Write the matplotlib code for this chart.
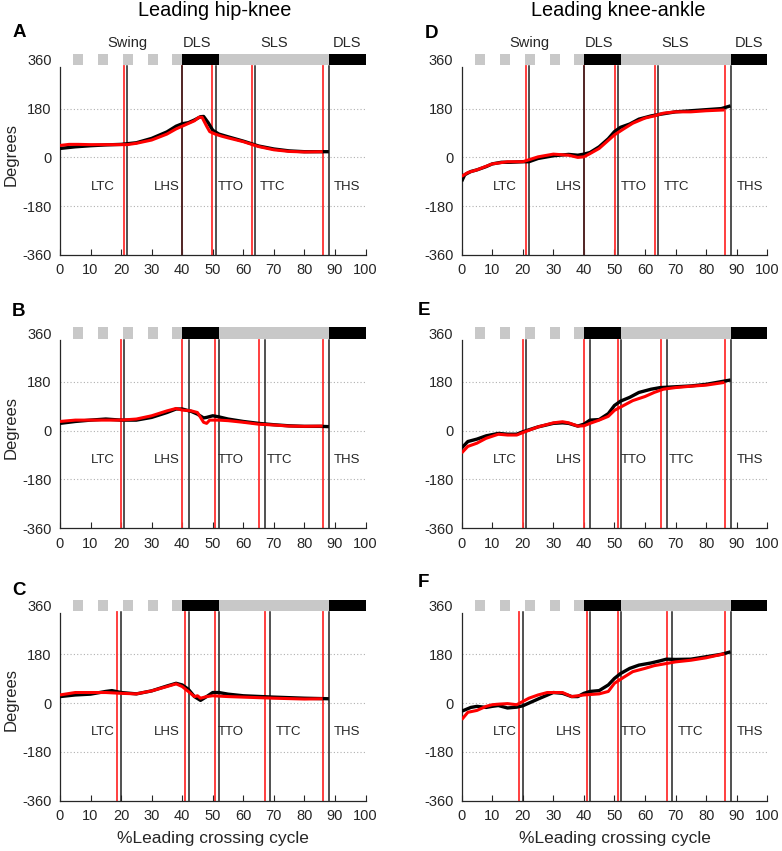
import matplotlib
matplotlib.use("Agg")
import matplotlib.pyplot as plt
import numpy as np

plt.rcParams['font.family'] = ['Liberation Sans', 'DejaVu Sans']
plt.rcParams['axes.unicode_minus'] = False

# ---------------- data ----------------
titles = ["Leading hip-knee", "Leading knee-ankle"]
panel_letters = ["A", "B", "C", "D", "E", "F"]
yticks = [-360, -180, 0, 180, 360]
xticks = [0, 10, 20, 30, 40, 50, 60, 70, 80, 90, 100]
phase_names = ["LTC", "LHS", "TTO", "TTC", "THS"]
phase_label_x = {
    "A": [14, 35, 56, 69.7, 94],
    "B": [14, 35, 56, 72, 94],
    "C": [14, 35, 56, 74.9, 94],
    "D": [14, 35.2, 56.2, 70.2, 94.5],
    "E": [14, 35.2, 56.2, 72, 94.5],
    "F": [14, 35.2, 56.2, 74.8, 94.5],
}
header_names = ["Swing", "DLS", "SLS", "DLS"]
header_x = [22, 45, 70, 94]
swing_dash_starts = [4.3, 12.5, 20.7, 28.8, 36.7]
swing_dash_width = 3.3
dls1 = (40, 52)
sls = (52, 88)
dls2 = (88, 100)

# event lines (black = one group, red = other)
black_events = {
    "A": [21.9, 39.9, 51.0, 63.8, 88.2],
    "B": [21.0, 42.1, 52.1, 67.0, 88.2],
    "C": [20.0, 42.1, 52.1, 68.9, 88.2],
    "D": [22.0, 40.1, 51.3, 64.1, 88.1],
    "E": [21.0, 42.0, 52.0, 67.1, 88.1],
    "F": [20.0, 42.0, 52.0, 69.0, 88.1],
}
red_events = {
    "A": [20.8, 39.9, 49.8, 62.8, 86.0],
    "B": [19.9, 39.9, 50.8, 65.0, 86.0],
    "C": [18.8, 41.0, 50.8, 67.0, 86.0],
    "D": [21.0, 40.1, 50.2, 63.2, 86.1],
    "E": [20.0, 40.0, 51.0, 65.1, 86.1],
    "F": [18.9, 40.9, 51.0, 67.1, 86.1],
}

# curves
A_black_x = [0, 5, 10, 15, 20, 25, 30, 35, 38, 40, 42, 44, 46, 47, 48.5, 50, 52, 55, 60, 65, 70, 75, 80, 85, 88]
A_black_y = [33, 39, 43, 46, 48, 54, 70, 94, 115, 124, 128, 138, 150, 151, 128, 100, 86, 76, 60, 42, 31, 24, 21, 21, 21]
A_red_x = [0, 3, 6, 10, 15, 20, 22, 25, 30, 35, 38, 40, 42, 44, 45.5, 46.5, 48, 49, 51, 53, 55, 60, 65, 70, 75, 80, 86]
A_red_y = [44, 48, 48, 47, 47, 47, 47, 52, 64, 86, 105, 115, 125, 135, 148, 148, 115, 95, 85, 78, 72, 58, 40, 28, 22, 20, 21]

B_black_x = [0, 5, 10, 15, 20, 25, 30, 35, 38, 40, 43, 45, 47, 48, 50, 52, 55, 60, 65, 70, 75, 80, 85, 88]
B_black_y = [27, 34, 39, 43, 39, 39, 49, 67, 80, 80, 71, 61, 47, 49, 55, 51, 43, 34, 27, 22, 18, 16, 16, 15]
B_red_x = [0, 5, 10, 20, 25, 30, 35, 38, 40, 43, 45, 47, 48, 49, 52, 55, 60, 65, 70, 75, 80, 86]
B_red_y = [34, 39, 39, 39, 43, 55, 73, 82, 76, 73, 67, 31, 27, 39, 39, 37, 31, 24, 21, 17, 16, 17]

C_black_x = [0, 5, 10, 15, 17, 20, 25, 30, 35, 38, 40, 42, 44, 46, 48, 50, 52, 55, 60, 70, 80, 88]
C_black_y = [24, 30, 33, 43, 46, 39, 34, 45, 63, 73, 67, 51, 24, 10, 24, 39, 39, 33, 27, 22, 18, 16]
C_red_x = [0, 5, 10, 15, 20, 25, 30, 35, 38, 40, 42, 44, 45, 46, 48, 50, 55, 60, 70, 80, 86]
C_red_y = [30, 39, 39, 39, 36, 34, 45, 61, 71, 61, 43, 24, 27, 18, 24, 27, 24, 22, 18, 15, 16]

D_black_x = [0, 1, 3, 5, 8, 10, 13, 16, 20, 22, 25, 30, 35, 38, 40, 42, 45, 48, 50, 52, 55, 58, 62, 65, 70, 75, 80, 85, 88]
D_black_y = [-88, -64, -52, -46, -34, -24, -18, -18, -16, -16, -4, 6, 11, 8, 12, 18, 39, 69, 95, 111, 123, 141, 153, 159, 168, 172, 176, 180, 190]
D_red_x = [0, 2, 5, 10, 15, 20, 25, 30, 35, 38, 40, 42, 45, 48, 50, 53, 56, 60, 63, 66, 70, 75, 80, 86]
D_red_y = [-70, -56, -46, -24, -16, -16, 2, 12, 8, 0, 2, 14, 33, 63, 83, 105, 126, 145, 153, 163, 168, 168, 172, 175]

E_black_x = [0, 2, 5, 8, 12, 15, 18, 20, 25, 30, 33, 35, 38, 40, 42, 45, 48, 50, 52, 55, 58, 62, 65, 70, 75, 80, 85, 88]
E_black_y = [-64, -40, -31, -19, -10, -13, -13, -4, 14, 27, 29, 27, 17, 24, 39, 41, 63, 93, 109, 123, 141, 153, 159, 162, 165, 171, 181, 187]
E_red_x = [0, 2, 5, 8, 12, 15, 18, 20, 25, 30, 33, 35, 38, 40, 42, 45, 48, 50, 53, 56, 60, 63, 66, 70, 75, 80, 86]
E_red_y = [-82, -58, -46, -28, -13, -16, -16, -7, 14, 29, 33, 29, 17, 18, 27, 39, 53, 75, 93, 111, 126, 141, 153, 159, 164, 168, 178]

F_black_x = [0, 3, 5, 8, 10, 12, 15, 18, 20, 22, 25, 30, 33, 36, 38, 40, 42, 45, 48, 50, 52, 55, 58, 62, 65, 67, 70, 75, 80, 85, 88]
F_black_y = [-30, -16, -12, -16, -12, -9, -18, -15, -10, 0, 15, 39, 36, 24, 24, 36, 43, 46, 67, 91, 109, 128, 140, 148, 156, 162, 161, 162, 171, 180, 189]
F_red_x = [0, 2, 5, 8, 10, 12, 15, 18, 20, 22, 25, 28, 30, 33, 36, 38, 40, 45, 48, 50, 53, 56, 60, 63, 67, 70, 75, 80, 86]
F_red_y = [-61, -34, -27, -12, -6, -4, -2, -6, 6, 18, 30, 39, 39, 39, 24, 27, 30, 34, 43, 73, 95, 116, 128, 138, 146, 152, 158, 167, 182]

curves = {
    "A": (A_black_x, A_black_y, A_red_x, A_red_y),
    "B": (B_black_x, B_black_y, B_red_x, B_red_y),
    "C": (C_black_x, C_black_y, C_red_x, C_red_y),
    "D": (D_black_x, D_black_y, D_red_x, D_red_y),
    "E": (E_black_x, E_black_y, E_red_x, E_red_y),
    "F": (F_black_x, F_black_y, F_red_x, F_red_y),
}

letter_pos = {
    "A": (-15.7, 460), "B": (-15.7, 441), "C": (-15.7, 415),
    "D": (-12.0, 456), "E": (-14.3, 445), "F": (-14.3, 445),
}

# ---------------- figure ----------------
W, H = 782, 851
fig = plt.figure(figsize=(W / 100, H / 100), dpi=100)

col_left = [60 / W, 461.7 / W]
col_w = 305.5 / W
row_bottom_px = [255, 528.3, 800.7]
ax_h = 202 / H

TXT = '#262626'
GREY_BAR = '#c8c8c8'

for ci in range(2):
    for ri in range(3):
        key = panel_letters[ci * 3 + ri]
        ax = fig.add_axes([col_left[ci], 1 - row_bottom_px[ri] / H, col_w, ax_h])
        ax.set_xlim(0, 100)
        ax.set_ylim(-360, 385)
        for s in ['top', 'right']:
            ax.spines[s].set_visible(False)
        for s in ['left', 'bottom']:
            ax.spines[s].set_color(TXT)
            ax.spines[s].set_linewidth(0.9)
        ax.spines['left'].set_bounds(-360, 334)
        ax.set_xticks(xticks)
        ax.set_yticks(yticks)
        ax.tick_params(direction='in', length=4, width=0.8, colors=TXT,
                       labelsize=10.5)
        ax.tick_params(axis='x', pad=6)
        ax.tick_params(axis='y', pad=6, length=0)
        # grid
        for gy in [180, 0, -180]:
            ax.axhline(gy, color='#b0b0b0', lw=0.8, ls=(0, (1, 2)), zorder=1)
        # phase bar
        ax.broken_barh([(s, swing_dash_width) for s in swing_dash_starts], (339, 42),
                       facecolors=GREY_BAR, zorder=3, clip_on=False)
        ax.broken_barh([(dls1[0], dls1[1] - dls1[0]), (dls2[0], dls2[1] - dls2[0])],
                       (339, 42), facecolors='black', zorder=3, clip_on=False)
        ax.broken_barh([(sls[0], sls[1] - sls[0])], (339, 42),
                       facecolors=GREY_BAR, zorder=3, clip_on=False)
        # event lines
        for xv in red_events[key]:
            ax.plot([xv, xv], [-360, 336], color='#ff3030', lw=1.3, zorder=2)
        for xv in black_events[key]:
            ax.plot([xv, xv], [-360, 336], color='#222222', lw=1.1, zorder=2)
        # curves
        bx, by, rx, ry = curves[key]
        ax.plot(bx, by, color='black', lw=2.4, zorder=4, solid_capstyle='butt')
        ax.plot(rx, ry, color='#ff0000', lw=2.2, zorder=5, solid_capstyle='butt')
        # phase labels
        for nm, xv in zip(phase_names, phase_label_x[key]):
            ax.text(xv, -108, nm, ha='center', va='center', fontsize=9.5,
                    color=TXT, zorder=6)
        # header labels
        if ri == 0:
            for nm, xv in zip(header_names, header_x):
                ax.text(xv, 422, nm, ha='center', va='center', fontsize=10.5,
                        color=TXT, clip_on=False)
        # panel letter
        lx, ly = letter_pos[key]
        ax.text(lx, ly, key, ha='left', va='center', fontsize=13.5,
                fontweight='bold', color='black', clip_on=False)
        if ci == 0:
            ax.set_ylabel("Degrees", fontsize=12, color=TXT)
            ax.yaxis.set_label_coords(-0.135, 0.5)
        if ri == 2:
            ax.set_xlabel("%Leading crossing cycle", fontsize=12.5, color=TXT)
            ax.xaxis.set_label_coords(0.5, -0.150)

fig.text(215 / W, 1 - 11 / H, titles[0], ha='center', va='center', fontsize=14.3, color='black')
fig.text(618 / W, 1 - 11 / H, titles[1], ha='center', va='center', fontsize=14.3, color='black')

fig.savefig("out.png", dpi=100)
